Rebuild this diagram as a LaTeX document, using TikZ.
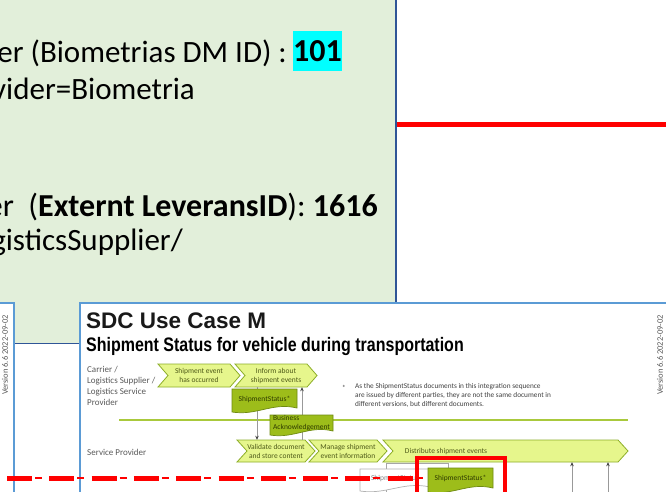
\documentclass[tikz,border=0pt]{standalone}
\usepackage{fontspec}
\usepackage{graphicx}
\setmainfont{Carlito}
\newfontfamily\arialfont{Liberation Sans}
\usetikzlibrary{arrows.meta}
\definecolor{boxgreen}{HTML}{E2EFDA}
\definecolor{darkblue}{HTML}{2F5597}
\definecolor{lightblue}{HTML}{5B9BD5}
\definecolor{chevfill}{HTML}{E6F68C}
\definecolor{chevline}{HTML}{8DAE28}
\definecolor{docfill}{HTML}{9DBD1A}
\definecolor{docline}{HTML}{6E8A10}
\definecolor{doctxt}{HTML}{2E3A00}
\definecolor{chevtxt}{HTML}{4E5A18}
\definecolor{lanegray}{HTML}{595959}
\definecolor{laneline}{HTML}{A9C93C}
\definecolor{hlcyan}{HTML}{00FFFF}
\definecolor{notegray}{HTML}{404040}
\newcommand\mychev[6]{%
  \draw[chevshape] (#2,#3) -- ({#4-10},#3) -- (#4,{(#3+#5)/2}) -- ({#4-10},#5) -- (#2,#5) -- ({#2+10},{(#3+#5)/2}) -- cycle;
  \node[chevtext, minimum width={(#4-#2)*1pt}, minimum height={(#5-#3)*1pt}] (#1) at ({(#2+#4)/2},{(#3+#5)/2}) {#6};}
\newcommand\mydoc[7]{%
  \path[#6] (#2,#3) -- (#4,#3) -- (#4,{#5-4}) .. controls ({#2+0.62*(#4-#2)},{#5-10}) and ({#2+0.38*(#4-#2)},{#5+4}) .. (#2,#5) -- cycle;
  \node[doctext, minimum width={(#4-#2)*1pt}, minimum height={(#5-#3-3)*1pt}] (#1) at ({(#2+#4)/2},{(#3+#5-3)/2}) {#7};}
\begin{document}
\begin{tikzpicture}[x=1pt,y=-1pt,
  greentext/.style={inner sep=0, font=\fontsize{31}{37}\selectfont, text=black},
  chevshape/.style={fill=chevfill, draw=chevline, line width=0.8pt},
  chevtext/.style={inner sep=0, align=center, font=\fontsize{7.5}{9}\selectfont, text=chevtxt},
  docdark/.style={fill=docfill, draw=docline, line width=0.7pt},
  docwhite/.style={fill=white, draw=gray!60, line width=0.7pt},
  doctext/.style={inner sep=0, align=left, font=\fontsize{7.5}{9}\selectfont, text=doctxt},
  lanetext/.style={inner sep=0, align=left, font=\fontsize{9}{10.7}\selectfont, text=lanegray},
  flow/.style={draw=gray!80, line width=0.8pt, -{Stealth[length=4pt,width=3.5pt,color=black!75]}},
  vertext/.style={inner sep=0, rotate=90, font=\fontsize{8.5}{10}\selectfont, text=lanegray}
]
\useasboundingbox (0,0) rectangle (666,491);
\begin{scope}
\clip (0,0) rectangle (666,491);
\fill[white] (0,0) rectangle (666,491);
% green text box
\fill[boxgreen] (-5,-5) rectangle (396,343);
\draw[darkblue, line width=1pt] (-5,343) -- (396,343);
\draw[darkblue, line width=2pt] (396,-5) -- (396,343);
% right white panel
\fill[white] (397,-5) rectangle (670,303);
\draw[lightblue, line width=1.5pt] (397,303) -- (670,303);
\draw[red, line width=5pt] (397,124) -- (670,124);
% green box texts
\node[greentext, anchor=base east] (l1) at (287,62) {er (Biometrias DM ID) :};
\node[greentext, fill=hlcyan, minimum width=49pt, minimum height=40pt, font=\fontsize{32}{38}\selectfont\bfseries] (n101) at (317.5,51) {101};
\node[greentext, anchor=base east] (l2) at (195,99) {vider=Biometria};
\node[greentext, anchor=base east, font=\fontsize{32}{38}\selectfont] (l3) at (378,216) {er\ \ (\textbf{Externt LeveransID}): \textbf{1616}};
\node[greentext, anchor=base east] (l4) at (183,250) {gisticsSupplier/};
% slides
\filldraw[fill=white, draw=lightblue, line width=1.2pt] (-20,303) rectangle (14,520);
\filldraw[fill=white, draw=lightblue, line width=1.2pt] (80,303) rectangle (690,520);
\node[vertext] (verL) at (5,355) {Version 6.6 2022-09-02};
\node[vertext] (verR) at (660,355) {Version 6.6 2022-09-02};
% titles
\node[inner sep=0, anchor=base west, font=\arialfont\bfseries\fontsize{22.5}{27}\selectfont, text=black!90] (title) at (86,328) {SDC Use Case M};
\node[inner sep=0, anchor=base west] (subtitle) at (86,351) {\scalebox{0.82}[1]{\arialfont\bfseries\fontsize{19.5}{23}\selectfont Shipment Status for vehicle during transportation}};
% lanes
\node[lanetext, anchor=north west] (lane1) at (87,366.5) {Carrier /\\Logistics Supplier /\\Logistics Service\\Provider};
\node[lanetext, anchor=base west] (lane2) at (87,455) {Service Provider};
\draw[laneline, line width=1.3pt] (119,420) -- (628,420);
% note
\node[inner sep=0, font=\fontsize{7.3}{9}\selectfont, text=notegray] (ast) at (344,388) {*};
\node[inner sep=0, anchor=north west, align=left, font=\fontsize{7.3}{9}\selectfont, text=notegray] (note) at (355,383.5) {As the ShipmentStatus documents in this integration sequence\\are issued by different parties, they are not the same document in\\different versions, but different documents.};
% chevrons
\mychev{evt}{158}{364}{240}{387}{Shipment event\\has occurred}
\mychev{inf}{235}{364}{317}{387}{Inform about\\shipment events}
\mychev{val}{237}{440}{315}{462}{Validate document\\and store content}
\mychev{man}{309}{440}{387}{462}{Manage shipment\\event information}
\mychev{dist}{383}{440}{628}{462}{}
\node[chevtext] (distlabel) at (446,451) {Distribute shipment events};
% arrows
\coordinate (ax1) at (257,0);
\coordinate (ax2) at (302,0);
\draw[flow] (inf.south -| ax1) -- (val.north -| ax1);
\draw[flow] (val.north -| ax2) -- (inf.south -| ax2);
\coordinate (b1) at (572,495);
\coordinate (b2) at (608,495);
\draw[flow] (b1) -- (dist.south -| b1);
\draw[flow] (b2) -- (dist.south -| b2);
% documents
\mydoc{ss1}{232}{389}{297}{412}{docdark}{ShipmentStatus*}
\mydoc{ba}{270}{415}{333}{435}{docdark}{Business\\Acknowledgement}
% bottom area
\draw[gray!70, line width=0.8pt] (386,463) rectangle (448,520);
\mydoc{ssw}{360}{469}{430}{491}{docwhite}{\textcolor{gray}{ShipmentStatus}}
\draw[red, line width=5pt, dash pattern=on 25pt off 17.3pt] (7,478) -- (428,478);
\draw[red, line width=2.2pt, dash pattern=on 7pt off 35.3pt] (35,478) -- (428,478);
\mydoc{ssg}{428}{468}{493}{492}{docdark}{ShipmentStatus*}
\draw[red, line width=4pt] (417,458) rectangle (505,520);
\end{scope}
\end{tikzpicture}
\end{document}
